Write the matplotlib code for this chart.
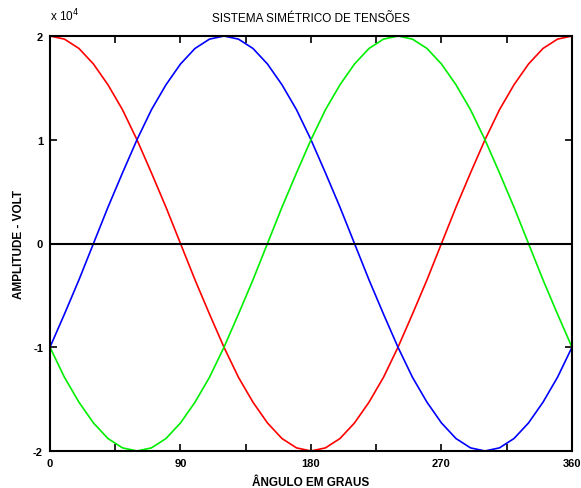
import matplotlib
matplotlib.use("Agg")
import matplotlib.pyplot as plt

# angle in degrees, amplitudes in units of 1e4 volt
angle = list(range(0, 361, 10))
fase_a = [2.00, 1.97, 1.88, 1.73, 1.53, 1.29, 1.00, 0.68, 0.35, 0.00,
          -0.35, -0.68, -1.00, -1.29, -1.53, -1.73, -1.88, -1.97, -2.00,
          -1.97, -1.88, -1.73, -1.53, -1.29, -1.00, -0.68, -0.35, 0.00,
          0.35, 0.68, 1.00, 1.29, 1.53, 1.73, 1.88, 1.97, 2.00]
fase_b = [-1.00, -0.68, -0.35, 0.00, 0.35, 0.68, 1.00, 1.29, 1.53, 1.73,
          1.88, 1.97, 2.00, 1.97, 1.88, 1.73, 1.53, 1.29, 1.00, 0.68,
          0.35, 0.00, -0.35, -0.68, -1.00, -1.29, -1.53, -1.73, -1.88,
          -1.97, -2.00, -1.97, -1.88, -1.73, -1.53, -1.29, -1.00]
fase_c = [-1.00, -1.29, -1.53, -1.73, -1.88, -1.97, -2.00, -1.97, -1.88,
          -1.73, -1.53, -1.29, -1.00, -0.68, -0.35, 0.00, 0.35, 0.68, 1.00,
          1.29, 1.53, 1.73, 1.88, 1.97, 2.00, 1.97, 1.88, 1.73, 1.53, 1.29,
          1.00, 0.68, 0.35, 0.00, -0.35, -0.68, -1.00]

plt.rcParams['font.family'] = ['Liberation Sans', 'DejaVu Sans']
plt.rcParams['axes.unicode_minus'] = False

fig = plt.figure(figsize=(5.81, 4.89), dpi=100)
ax = fig.add_axes([0.086, 0.0757, 0.8985, 0.8486])

ax.plot(angle, fase_a, color='#ff0000', lw=1.2)
ax.plot(angle, fase_b, color='#0000ff', lw=1.2)
ax.plot(angle, fase_c, color='#00ee00', lw=1.2)
ax.axhline(0, color='black', lw=1.5)

ax.set_xlim(0, 360)
ax.set_ylim(-2, 2)
ax.set_xticks(range(0, 361, 45))
ax.set_xticklabels(['0', '', '90', '', '180', '', '270', '', '360'])
ax.set_yticks([-2, -1, 0, 1, 2])
ax.tick_params(direction='in', top=True, right=True, length=5, width=1.2,
               labelsize=8, pad=5)
for lbl in ax.get_xticklabels() + ax.get_yticklabels():
    lbl.set_fontweight('bold')
for s in ax.spines.values():
    s.set_linewidth(1.5)

ax.set_title('SISTEMA SIMÉTRICO DE TENSÕES', fontsize=8.5, pad=11)
ax.set_xlabel('ÂNGULO EM GRAUS', fontsize=8.5, fontweight='bold', labelpad=6)
ax.set_ylabel('AMPLITUDE - VOLT', fontsize=8.5, fontweight='bold', labelpad=6)
ax.text(0, 1.03, r'x 10$^4$', transform=ax.transAxes, fontsize=8.5,
        ha='left', va='bottom')

fig.savefig('out.png', dpi=100)
